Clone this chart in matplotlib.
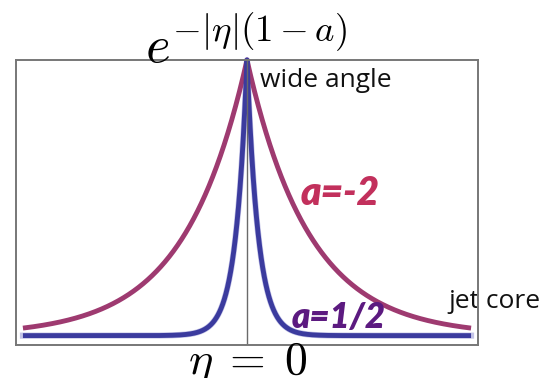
import matplotlib

matplotlib.use("Agg")

import matplotlib.pyplot as plt
import numpy as np

# decay rates of the two profiles, one per value of a
labels = ["a=-2", "a=1/2"]
rates = [3.6, 20.0]
line_colors = ["#9e3a70", "#3b3b9e"]
label_colors = ["#c2305c", "#5c1a80"]

eta = np.linspace(-1.0, 1.0, 2001)

fig = plt.figure(figsize=(5.45, 3.78), dpi=100)
ax = fig.add_axes([16 / 545, 33 / 378, 462 / 545, 285 / 378])
ax.set_xlim(-1.031, 1.031)
ax.set_ylim(-0.034, 1.0)

for rate, color in zip(rates, line_colors):
    y = np.exp(-np.abs(eta) * rate)
    if color == "#3b3b9e":
        ax.plot(eta, y, color="#8a8ad0", lw=4.4, alpha=0.5, clip_on=False,
                solid_joinstyle="round", zorder=2)
    ax.plot(eta, y, color=color, lw=3.5, clip_on=False,
            solid_joinstyle="round", solid_capstyle="butt", zorder=3)

ax.axvline(0, color="#6a6a6a", lw=1.0, zorder=4)

for side in ax.spines.values():
    side.set_color("#777777")
    side.set_linewidth(1.4)
    side.set_zorder(5)
ax.set_xticks([])
ax.set_yticks([])

plain = ["Open Sans", "DejaVu Sans"]
bold = ["Lato", "DejaVu Sans"]
ax.text(0.058, 0.902, "wide angle", fontsize=19, family=plain, color="#111111", va="baseline")
ax.text(0.237, 0.474, labels[0], fontsize=28, family=bold, fontweight="heavy",
        style="italic", color=label_colors[0], va="baseline")
ax.text(0.201, 0.028, labels[1], fontsize=25, family=bold, fontweight="heavy",
        style="italic", color=label_colors[1], va="baseline")
ax.text(0.898, 0.100, "jet core", fontsize=19, family=plain, color="#111111",
        va="baseline", clip_on=False, zorder=1)

plt.rcParams["mathtext.fontset"] = "cm"
fig.text(246.5 / 545, 1 - 63 / 378, r"$e^{-|\eta|(1-a)}$", fontsize=38,
         ha="center", va="baseline")
fig.text(247.5 / 545, 1 - 374 / 378, r"$\eta\;=\;0$", fontsize=33,
         ha="center", va="baseline")

fig.savefig("out.png", dpi=100)
plt.close(fig)
